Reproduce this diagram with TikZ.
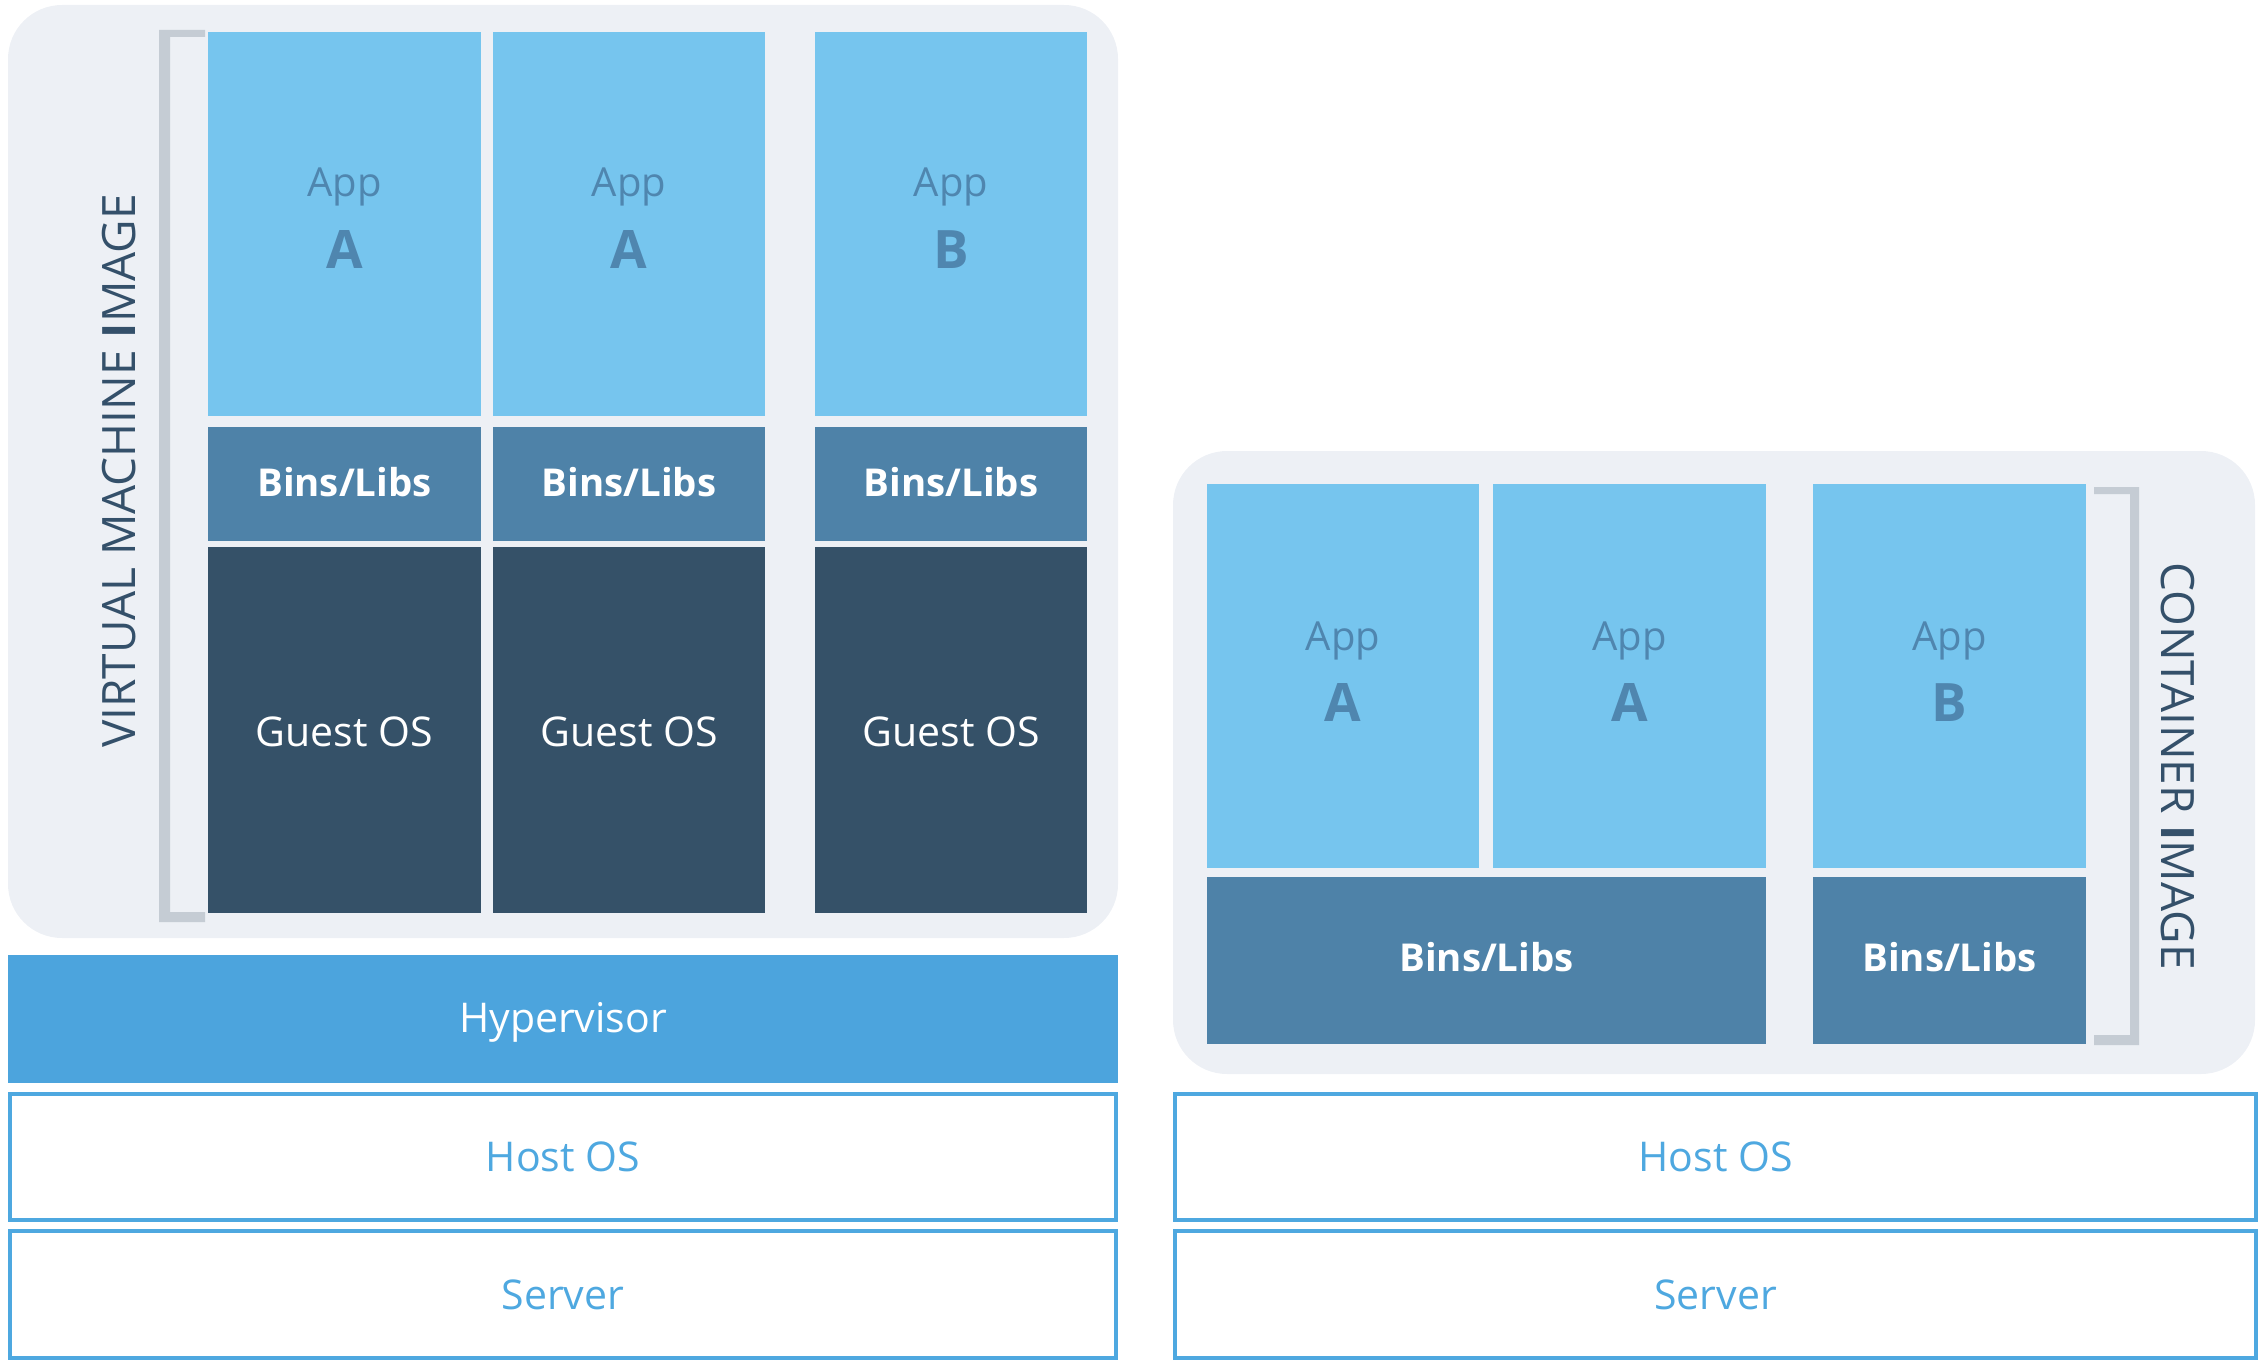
\documentclass[tikz,border=0pt]{standalone}
\usepackage{fontspec}
\setmainfont{Open Sans}
\definecolor{panelbg}{HTML}{EDF0F5}
\definecolor{appblue}{HTML}{76C5EE}
\definecolor{binsblue}{HTML}{4E82A8}
\definecolor{guestdark}{HTML}{355168}
\definecolor{hyperblue}{HTML}{4CA4DD}
\definecolor{lineblue}{HTML}{4EA8E0}
\definecolor{apptext}{HTML}{4F86AF}
\definecolor{brackgray}{HTML}{C5CCD4}
\definecolor{labeldark}{HTML}{34506A}
\newcommand\blk[6]{\node[#6, minimum width={(#4-#2)*0.5pt}, minimum height={(#5-#3)*0.5pt}] (#1) at ({(#2+#4)/2},{(#3+#5)/2}) {};}
\begin{document}
\begin{tikzpicture}[x=0.5pt,y=-0.5pt,
  every node/.style={inner sep=0pt, outer sep=0pt},
  panel/.style={fill=panelbg, rounded corners=27pt},
  appbox/.style={fill=appblue},
  binsbox/.style={fill=binsblue},
  guestbox/.style={fill=guestdark},
  hyperbox/.style={fill=hyperblue},
  hostbox/.style={draw=lineblue, line width=2pt, fill=white},
  apptxt/.style={text=apptext, font=\fontsize{20}{24}\selectfont, anchor=base},
  letter/.style={text=apptext, font=\fontsize{26.5}{30}\selectfont\bfseries, anchor=base},
  binstxt/.style={text=white, font=\fontsize{19.2}{23}\selectfont\bfseries, anchor=base},
  whitetxt/.style={text=white, font=\fontsize{20.5}{24}\selectfont, anchor=base},
  bluetxt/.style={text=lineblue, font=\fontsize{20.5}{24}\selectfont, anchor=base},
  sidetxt/.style={text=labeldark, font=\fontsize{23}{26}\selectfont, anchor=base},
  bracket/.style={fill=brackgray}
]
\useasboundingbox (0,0) rectangle (2268,1364);
% panels
\blk{vmpanel}{8}{5}{1118}{938}{panel}
\blk{ctpanel}{1173}{451}{2255}{1074}{panel}
% brackets
\fill[bracket] (159,30) -- (205,30) -- (205,37) -- (170,37) -- (170,912) -- (205,912) -- (205,922) -- (159,922) -- cycle;
\fill[bracket] (2139,487) -- (2094,487) -- (2094,494) -- (2130,494) -- (2130,1035) -- (2094,1035) -- (2094,1045) -- (2139,1045) -- cycle;
% side labels
\node[sidetxt, rotate=90] (vmlabel) at (135,471) {VIRTUAL MACHINE {\bfseries I}MAGE};
\node[sidetxt, rotate=-90] (ctlabel) at (2161,766) {CONTAINER {\bfseries I}MAGE};
% left: virtual machines
\blk{vapp1}{208}{32}{481}{416}{appbox}
\blk{vapp2}{493}{32}{765}{416}{appbox}
\blk{vapp3}{815}{32}{1087}{416}{appbox}
\blk{vbins1}{208}{427}{481}{541}{binsbox}
\blk{vbins2}{493}{427}{765}{541}{binsbox}
\blk{vbins3}{815}{427}{1087}{541}{binsbox}
\blk{vguest1}{208}{547}{481}{913}{guestbox}
\blk{vguest2}{493}{547}{765}{913}{guestbox}
\blk{vguest3}{815}{547}{1087}{913}{guestbox}
\node[apptxt] (va1t) at (344.5,197) {App};
\node[apptxt] (va2t) at (629,197) {App};
\node[apptxt] (va3t) at (951,197) {App};
\node[letter] (va1l) at (344.5,268) {A};
\node[letter] (va2l) at (629,268) {A};
\node[letter] (va3l) at (951,268) {B};
\node[binstxt] (vb1t) at (344.5,496) {Bins/Libs};
\node[binstxt] (vb2t) at (629,496) {Bins/Libs};
\node[binstxt] (vb3t) at (951,496) {Bins/Libs};
\node[whitetxt] (vg1t) at (344.5,746) {Guest OS};
\node[whitetxt] (vg2t) at (629,746) {Guest OS};
\node[whitetxt] (vg3t) at (951,746) {Guest OS};
% left: infrastructure
\blk{hyper}{8}{955}{1118}{1083}{hyperbox}
\node[whitetxt] (hypert) at (563,1032) {Hypervisor};
\blk{vhost}{10}{1094}{1116}{1220}{hostbox}
\node[bluetxt] (vhostt) at (563,1171) {Host OS};
\blk{vserver}{10}{1231}{1116}{1358}{hostbox}
\node[bluetxt] (vservert) at (563,1309) {Server};
% right: containers
\blk{capp1}{1207}{484}{1479}{868}{appbox}
\blk{capp2}{1493}{484}{1766}{868}{appbox}
\blk{capp3}{1813}{484}{2086}{868}{appbox}
\blk{cbins12}{1207}{877}{1766}{1044}{binsbox}
\blk{cbins3}{1813}{877}{2086}{1044}{binsbox}
\node[apptxt] (ca1t) at (1343,650) {App};
\node[apptxt] (ca2t) at (1629.5,650) {App};
\node[apptxt] (ca3t) at (1949.5,650) {App};
\node[letter] (ca1l) at (1343,721) {A};
\node[letter] (ca2l) at (1629.5,721) {A};
\node[letter] (ca3l) at (1949.5,721) {B};
\node[binstxt] (cb12t) at (1486.5,971) {Bins/Libs};
\node[binstxt] (cb3t) at (1949.5,971) {Bins/Libs};
% right: infrastructure
\blk{chost}{1175}{1094}{2256}{1220}{hostbox}
\node[bluetxt] (chostt) at (1715.5,1171) {Host OS};
\blk{cserver}{1175}{1231}{2256}{1358}{hostbox}
\node[bluetxt] (cservert) at (1715.5,1309) {Server};
\end{tikzpicture}
\end{document}
